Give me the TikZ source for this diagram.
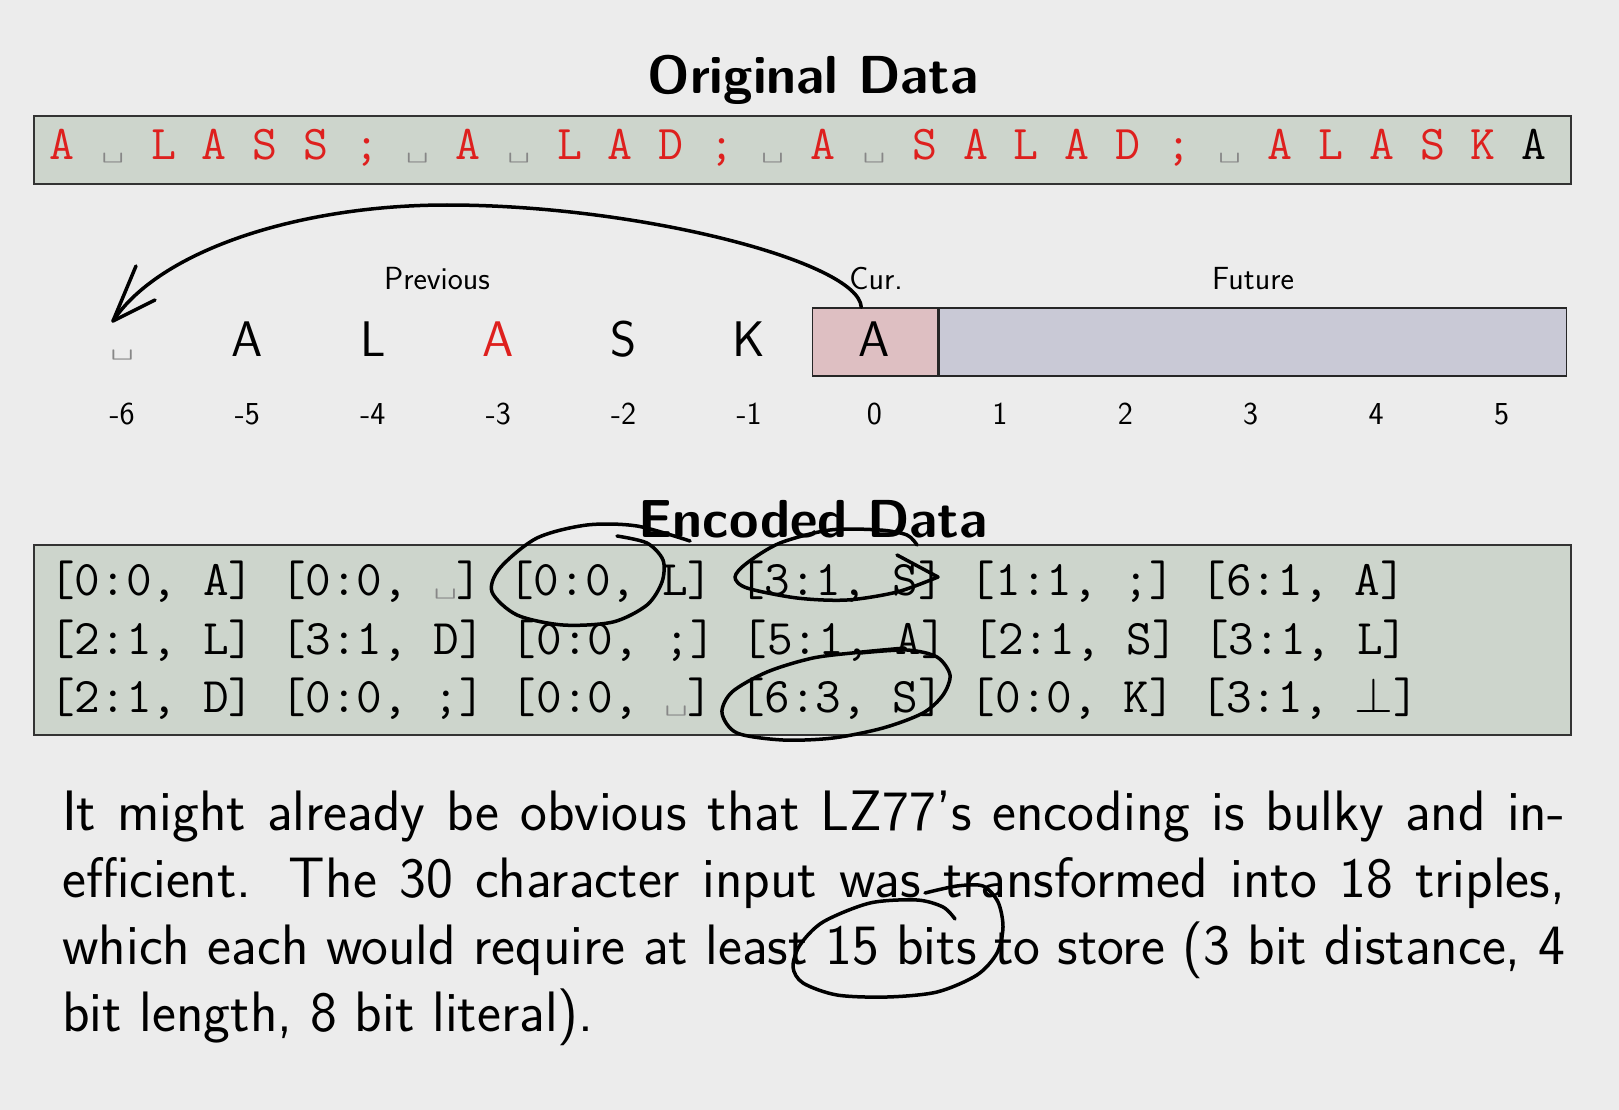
\documentclass[tikz,border=0pt]{standalone}
\usepackage{fix-cm}
\usepackage{graphicx}
\usepackage{fontspec}
\definecolor{bg}{RGB}{236,236,236}
\definecolor{boxfill}{RGB}{205,213,204}
\definecolor{curfill}{RGB}{222,191,194}
\definecolor{futfill}{RGB}{201,201,214}
\definecolor{lit}{RGB}{222,32,30}
\definecolor{vsgray}{RGB}{135,135,135}
\newcommand\vs{{\color{vsgray}\scalebox{0.9}[0.55]{\textvisiblespace}}}
\begin{document}
\begin{tikzpicture}[x=1pt,y=-1pt,
	databox/.style={draw=black!80,line width=2pt,fill=boxfill,inner sep=0pt,anchor=north west,minimum width=1537},
	cell/.style={draw=black!85,line width=1.5pt,minimum height=68,inner sep=0pt,anchor=west},
	title/.style={anchor=base,inner sep=0pt,font=\fontsize{53.5}{60}\selectfont\sffamily\bfseries},
	datachar/.style={anchor=base,inner sep=0pt,text=lit,font=\fontsize{48.5}{58}\selectfont\ttfamily},
	encrow/.style={anchor=base west,inner sep=0pt,font=\fontsize{49.8}{58}\selectfont\ttfamily\frenchspacing},
	bigchar/.style={anchor=base,inner sep=0pt,font=\fontsize{50}{60}\selectfont\sffamily},
	lbl/.style={anchor=base,inner sep=0pt,font=\fontsize{32}{38}\selectfont\sffamily},
	para/.style={anchor=north west,inner sep=0pt,text width=1503pt,align=justify,font=\fontsize{57}{67}\selectfont\sffamily},
	ink/.style={line width=3.5pt,line cap=round,line join=round}]
	\fill[bg] (0,0) rectangle (1619,1110);
	\useasboundingbox (0,0) rectangle (1619,1110);

	\node[title] (origtitle) at (813,94) {Original Data};
	\node[databox,minimum height=68] (orig) at (33,115) {};
	\foreach \c [count=\i from 0] in {A,\vs,L,A,S,S,;,\vs,A,\vs,L,A,D,;,\vs,A,\vs,S,A,L,A,D,;,\vs,A,L,A,S,K}
		\node[datachar] (o\i) at (62+50.76*\i,160) {\c};
	\node[datachar,text=black] (o29) at (62+50.76*29,160) {A};

	\node[lbl] (prev) at (437,289) {Previous};
	\node[lbl] (curlbl) at (876,289) {Cur.};
	\node[lbl] (futlbl) at (1253,289) {Future};
	\node[cell,fill=curfill,minimum width=125.4] (cur) at (811.8,342) {};
	\node[cell,fill=futfill,minimum width=627] (fut) at (cur.east) {};
	\foreach \c [count=\i from 0] in {{\ttfamily\vs},A,L,{\color{lit}A},S,K,A}
		\node[bigchar] (ch\i) at (874.5+125.4*\i-752.4,356) {\c};
	\foreach \n [count=\i from 0] in {-6,...,5}
		\node[lbl] (n\i) at (122.1+125.4*\i,424) {\n};

	\coordinate (tip) at (113,321);
	\draw[ink] ([xshift=-14pt]cur.north) .. controls +(-2,-45) and (640,205) .. (447,205)
		.. controls (300,205) and (160,250) .. (tip);
	\draw[ink] (tip) -- +(23,-55) (tip) -- +(42,-21);

	\node[title] (enctitle) at (813,537) {Encoded Data};
	\node[databox,minimum height=190] (enc) at (33,544) {};
	\node[encrow] (r1) at (49,595) {[0:0, A] [0:0, \vs] [0:0, L] [3:1, S] [1:1, ;] [6:1, A]};
	\node[encrow] (r2) at (49,654) {[2:1, L] [3:1, D] [0:0, ;] [5:1, A] [2:1, S] [3:1, L]};
	\node[encrow] (r3) at (49,712) {[2:1, D] [0:0, ;] [0:0, \vs] [6:3, S] [0:0, K] [3:1, $\bot$]};

	\draw[ink] plot[smooth] coordinates {(617,536) (647,543) (663,560) (662,582) (647,605) (613,622) (563,625)
		(517,615) (492,592) (500,568) (537,538) (587,525) (637,526) (690,541)};
	\draw[ink] plot[smooth] coordinates {(917,545) (907,535) (880,530) (830,530) (780,543) (747,563) (735,577)
		(747,588) (797,598) (847,600) (897,592) (938,577)} -- (897,555);
	\draw[ink] plot[smooth] coordinates {(860,653) (907,650) (937,657) (950,675) (943,695) (923,713) (883,728)
		(833,738) (783,740) (737,733) (722,713) (732,692) (767,672) (813,658) (862,652) (905,648)};

	\node[para] (txt) at (62,791) {It might already be obvious that LZ77’s encoding is bulky and in-\linebreak
		efficient.  The 30 character input was transformed into 18 triples,\linebreak
		which each would require at least 15 bits to store (3 bit distance, 4\linebreak
		bit length, 8 bit literal).};
	\draw[ink] plot[smooth] coordinates {(925,893) (957,886) (983,886) (998,902) (1003,927) (997,953) (977,975)
		(937,992) (887,997) (837,995) (803,983) (793,967) (800,945) (823,922) (870,903) (917,900) (943,907) (955,919)};
\end{tikzpicture}
\end{document}
